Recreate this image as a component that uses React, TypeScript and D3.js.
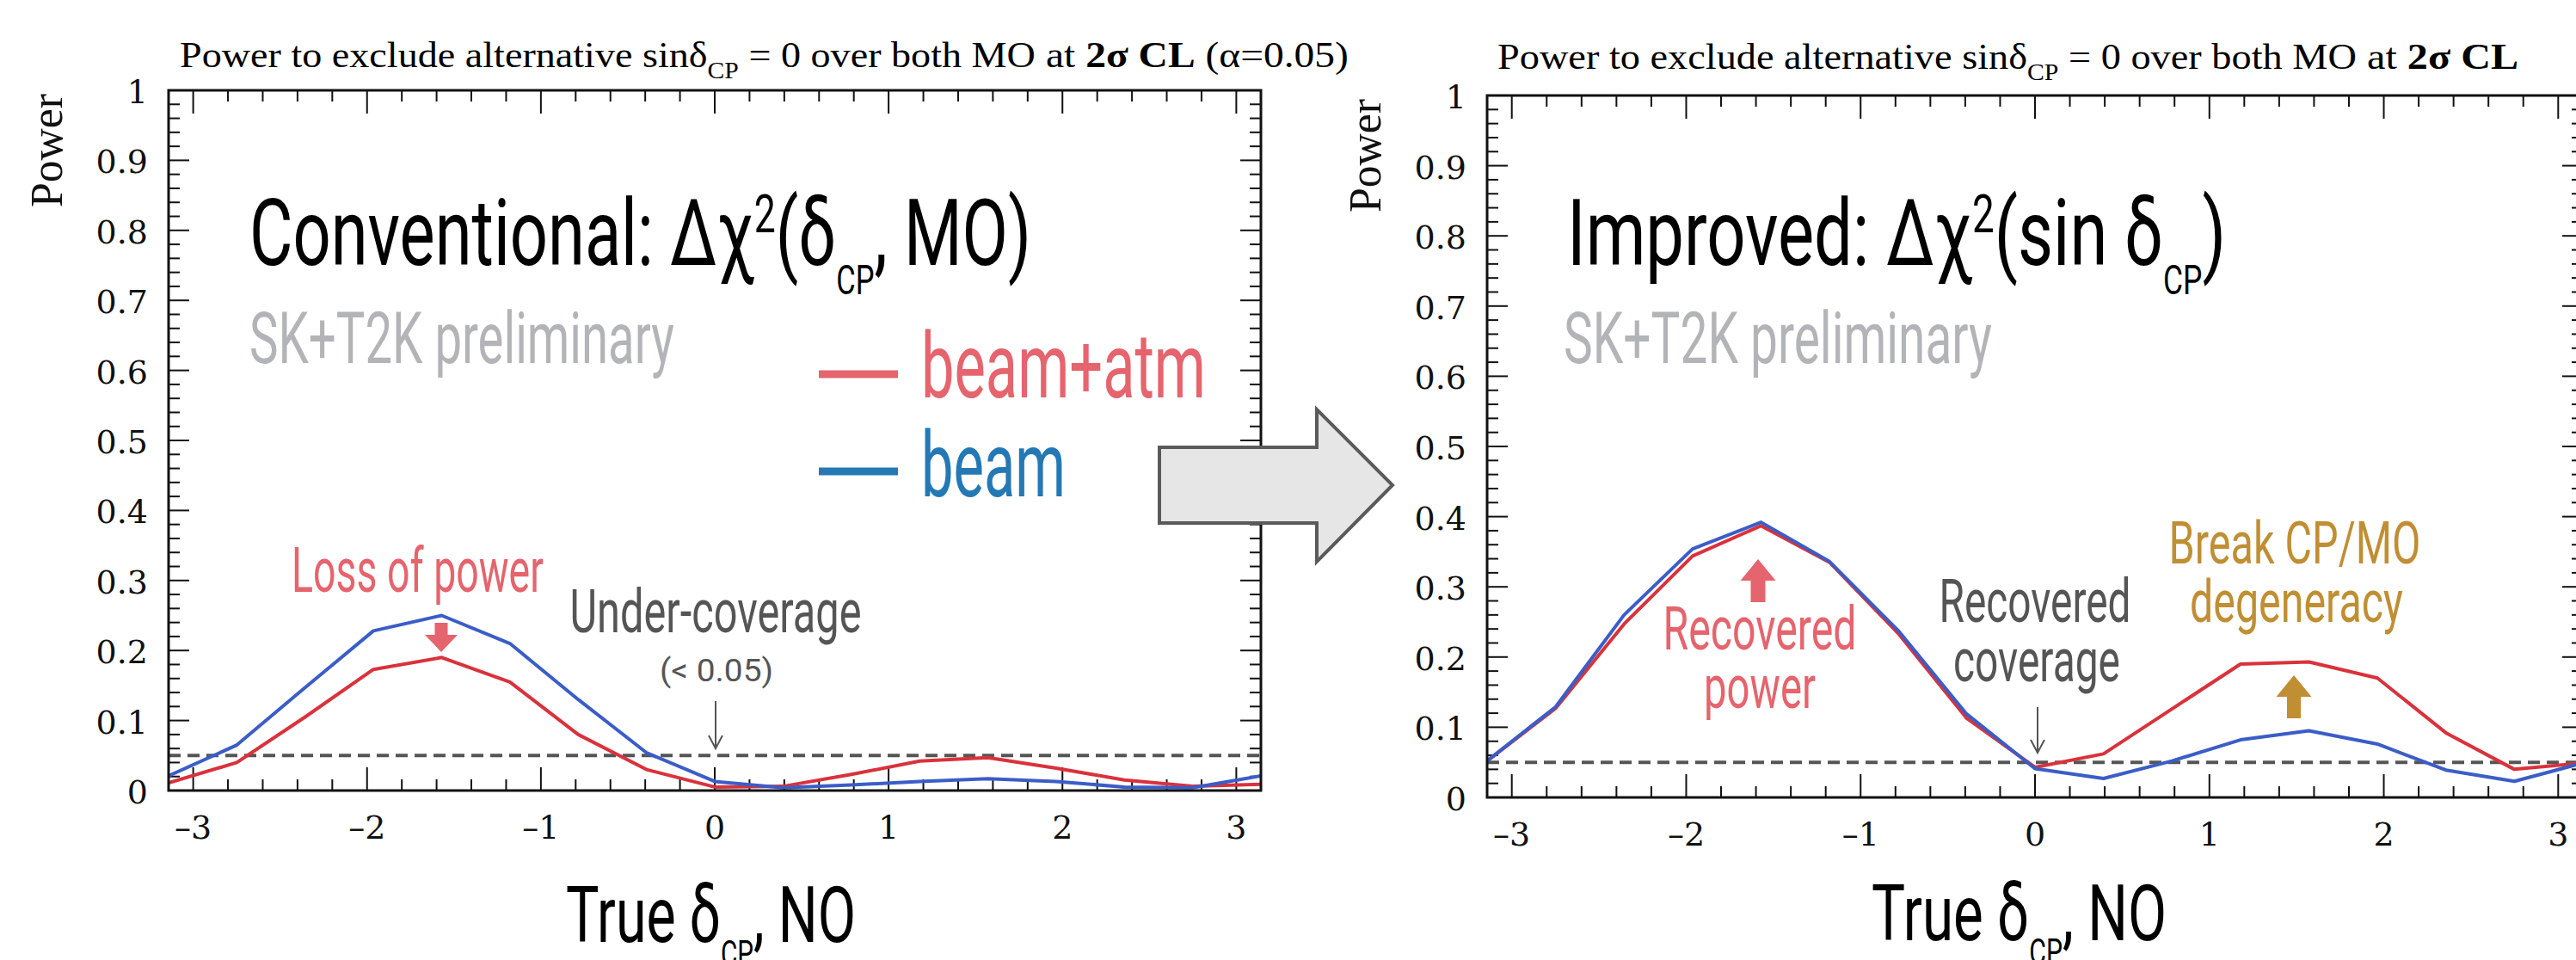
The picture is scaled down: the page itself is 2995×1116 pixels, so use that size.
import React, { useLayoutEffect, useRef, useState } from 'react';
import * as d3 from 'd3';

const W = 2995;
const H = 1116;

// True delta_CP grid (radians), steps of pi/8 from -pi to pi
const deltaGrid = [
  -3.1416, -2.7489, -2.3562, -1.9635, -1.5708, -1.1781, -0.7854, -0.3927, 0,
  0.3927, 0.7854, 1.1781, 1.5708, 1.9635, 2.3562, 2.7489, 3.1416,
];

// Conventional Δχ²(δCP, MO)
const convBeam = [0.021, 0.065, 0.147, 0.228, 0.25, 0.21, 0.13, 0.054, 0.013, 0.004, 0.008, 0.013, 0.017, 0.013, 0.005, 0.004, 0.021];
const convBeamAtm = [0.011, 0.04, 0.105, 0.173, 0.19, 0.155, 0.08, 0.03, 0.005, 0.006, 0.023, 0.042, 0.047, 0.032, 0.015, 0.006, 0.009];

// Improved Δχ²(sin δCP)
const impBeam = [0.052, 0.129, 0.26, 0.354, 0.392, 0.336, 0.238, 0.119, 0.041, 0.027, 0.052, 0.082, 0.095, 0.076, 0.039, 0.023, 0.049];
const impBeamAtm = [0.052, 0.127, 0.247, 0.344, 0.387, 0.335, 0.234, 0.113, 0.043, 0.062, 0.126, 0.19, 0.193, 0.17, 0.092, 0.04, 0.049];

const xTickValues = [-3, -2, -1, 0, 1, 2, 3];
const yTickValues = [0, 0.1, 0.2, 0.3, 0.4, 0.5, 0.6, 0.7, 0.8, 0.9, 1];
const alphaLevel = 0.05;

const RED_LINE = '#d9323c';
const BLUE_LINE = '#3b5dc7';
const RED_TEXT = '#e5646d';
const BLUE_TEXT = '#2479b5';
const GRAY_DARK = '#555555';
const GRAY_LIGHT = '#b3b4b8';
const GOLD = '#c08e33';

const SANS = 'Roboto, "Noto Sans", sans-serif';
const SERIF = '"Liberation Serif", "DejaVu Serif", serif';
const TICK_SERIF = '"DejaVu Serif", "Liberation Serif", serif';

// Text that is squeezed horizontally so its full width equals `w`.
function Fit(props: {
  x: number; y: number; w: number; anchor?: 'start' | 'middle' | 'end';
  size: number; family: string; fill: string; weight?: string | number; children: React.ReactNode;
}) {
  const { x, y, w, anchor = 'start', size, family, fill, weight = 'normal', children } = props;
  const ref = useRef<SVGTextElement>(null);
  const [s, setS] = useState(1);
  useLayoutEffect(() => {
    const measure = () => {
      if (ref.current) {
        const bw = ref.current.getBBox().width;
        if (bw > 0) setS(w / bw);
      }
    };
    measure();
    if ((document as any).fonts && (document as any).fonts.ready) {
      (document as any).fonts.ready.then(measure);
    }
  }, [w]);
  return (
    <g transform={`translate(${x},${y}) scale(${s},1)`}>
      <text ref={ref} x={0} y={0} textAnchor={anchor} fontSize={size} fontFamily={family} fill={fill} fontWeight={weight}>
        {children}
      </text>
    </g>
  );
}

function Panel(props: {
  left: number; right: number; top: number; bottom: number;
  beam: number[]; beamAtm: number[]; clipId: string;
}) {
  const { left, right, top, bottom, beam, beamAtm, clipId } = props;
  const x = d3.scaleLinear().domain([-Math.PI, Math.PI]).range([left, right]);
  const y = d3.scaleLinear().domain([0, 1]).range([bottom, top]);
  const line = d3.line<number>().x((_, i) => x(deltaGrid[i])).y((d) => y(d));

  const xMinor = d3.range(-15, 16).map((i) => i * 0.2).filter((v) => Math.abs(v - Math.round(v)) > 1e-6);
  const yMinor = d3.range(0, 51).map((i) => i / 50).filter((v) => Math.abs(v * 10 - Math.round(v * 10)) > 1e-6);

  const majX = 27, minX = 13, majY = 24, minY = 13;

  return (
    <g>
      <defs>
        <clipPath id={clipId}>
          <rect x={left} y={top} width={right - left} height={bottom - top} />
        </clipPath>
      </defs>
      {/* ticks */}
      <g stroke="#111" strokeWidth={2}>
        {xTickValues.map((v) => (
          <g key={'xm' + v}>
            <line x1={x(v)} x2={x(v)} y1={bottom} y2={bottom - majX} />
            <line x1={x(v)} x2={x(v)} y1={top} y2={top + majX} />
          </g>
        ))}
        {xMinor.map((v) => (
          <g key={'xn' + v}>
            <line x1={x(v)} x2={x(v)} y1={bottom} y2={bottom - minX} />
            <line x1={x(v)} x2={x(v)} y1={top} y2={top + minX} />
          </g>
        ))}
        {yTickValues.map((v) => (
          <g key={'ym' + v}>
            <line x1={left} x2={left + majY} y1={y(v)} y2={y(v)} />
            <line x1={right} x2={right - majY} y1={y(v)} y2={y(v)} />
          </g>
        ))}
        {yMinor.map((v) => (
          <g key={'yn' + v}>
            <line x1={left} x2={left + minY} y1={y(v)} y2={y(v)} />
            <line x1={right} x2={right - minY} y1={y(v)} y2={y(v)} />
          </g>
        ))}
      </g>
      {/* threshold */}
      <line x1={left} x2={right} y1={y(alphaLevel)} y2={y(alphaLevel)} stroke={GRAY_DARK} strokeWidth={4} strokeDasharray="14 8" />
      {/* curves */}
      <g clipPath={`url(#${clipId})`} fill="none" strokeWidth={4} strokeLinejoin="round">
        <path d={line(beamAtm) || ''} stroke={RED_LINE} />
        <path d={line(beam) || ''} stroke={BLUE_LINE} />
      </g>
      {/* frame */}
      <rect x={left} y={top} width={right - left} height={bottom - top} fill="none" stroke="#111" strokeWidth={3} />
      {/* tick labels */}
      <g fontFamily={TICK_SERIF} fontSize={38} fill="#111">
        {yTickValues.map((v) => (
          <text key={'yl' + v} x={left - 24} y={y(v) + 15} textAnchor="end">
            {String(+v.toFixed(1))}
          </text>
        ))}
        {xTickValues.map((v) => (
          <text key={'xl' + v} x={x(v)} y={bottom + 56} textAnchor="middle">
            {v < 0 ? '\u2013' + Math.abs(v) : String(v)}
          </text>
        ))}
      </g>
      <text
        transform={`translate(${left - 124},${top + 70}) rotate(-90)`}
        textAnchor="middle"
        fontFamily={SERIF}
        fontSize={52}
        textLength={132}
        lengthAdjust="spacingAndGlyphs"
        fill="#111"
      >
        Power
      </text>
    </g>
  );
}

function blockArrow(cx: number, tipY: number, baseY: number, headLen: number, headW: number, shaftW: number) {
  const dir = Math.sign(tipY - baseY);
  const hy = tipY - dir * headLen;
  return [
    `M${cx - shaftW / 2},${baseY}`,
    `L${cx + shaftW / 2},${baseY}`,
    `L${cx + shaftW / 2},${hy}`,
    `L${cx + headW / 2},${hy}`,
    `L${cx},${tipY}`,
    `L${cx - headW / 2},${hy}`,
    `L${cx - shaftW / 2},${hy}`,
    'Z',
  ].join(' ');
}

function ThinArrow({ x, y0, y1 }: { x: number; y0: number; y1: number }) {
  return (
    <g stroke={GRAY_DARK} strokeWidth={2} fill="none">
      <line x1={x} x2={x} y1={y0} y2={y1} />
      <polyline points={`${x - 8},${y1 - 15} ${x},${y1} ${x + 8},${y1 - 15}`} />
    </g>
  );
}

function Title({ x, y, w1, w2, tail }: { x: number; y: number; w1: number; w2: number; tail: string }) {
  return (
    <g>
      <Fit x={x} y={y} w={w1} size={42} family={SERIF} fill="#000">
        <tspan>Power to exclude alternative sinδ</tspan>
        <tspan dy={13} fontSize={27}>CP</tspan>
        <tspan dy={-13}> = 0 over both MO</tspan>
      </Fit>
      <Fit x={x + w1 + 12} y={y} w={w2} size={43} family={SERIF} fill="#000">
        <tspan>at </tspan>
        <tspan fontWeight="bold">2σ CL</tspan>
        <tspan>{tail}</tspan>
      </Fit>
    </g>
  );
}

export default function App() {
  return (
    <svg
      width={W}
      height={H}
      viewBox={`0 0 ${W} ${H}`}
      style={{ position: 'absolute', left: 0, top: 0, display: 'block', background: '#fff' }}
    >
      <rect x={0} y={0} width={W} height={H} fill="#fff" />

      {/* Left: conventional */}
      <Title x={209} y={78} w1={995} w2={352} tail=" (α=0.05)" />
      <Panel left={196} right={1466} top={105} bottom={919} beam={convBeam} beamAtm={convBeamAtm} clipId="clipL" />

      {/* Right: improved */}
      <Title x={1741} y={80} w1={999} w2={176} tail="" />
      <Panel left={1729} right={3003} top={111} bottom={927} beam={impBeam} beamAtm={impBeamAtm} clipId="clipR" />

      {/* Method headings */}
      <Fit x={290} y={308} w={909} size={108} family={SANS} fill="#000">
        <tspan>Conventional: Δχ</tspan>
        <tspan dy={-38} fontSize={62}>2</tspan>
        <tspan dy={38}>(δ</tspan>
        <tspan dy={34} fontSize={48}>CP</tspan>
        <tspan dy={-34}>, MO)</tspan>
      </Fit>
      <Fit x={1822} y={308} w={766} size={108} family={SANS} fill="#000">
        <tspan>Improved: Δχ</tspan>
        <tspan dy={-38} fontSize={62}>2</tspan>
        <tspan dy={38}>(sin δ</tspan>
        <tspan dy={34} fontSize={48}>CP</tspan>
        <tspan dy={-34}>)</tspan>
      </Fit>
      <Fit x={290} y={422} w={494} size={84} family={SANS} fill={GRAY_LIGHT}>SK+T2K preliminary</Fit>
      <Fit x={1818} y={422} w={498} size={84} family={SANS} fill={GRAY_LIGHT}>SK+T2K preliminary</Fit>

      {/* Legend */}
      <line x1={952} x2={1044} y1={435} y2={435} stroke={RED_TEXT} strokeWidth={9} />
      <Fit x={1071} y={462} w={331} size={106} family={SANS} fill={RED_TEXT}>beam+atm</Fit>
      <line x1={952} x2={1044} y1={548} y2={548} stroke={BLUE_TEXT} strokeWidth={9} />
      <Fit x={1071} y={577} w={168} size={106} family={SANS} fill={BLUE_TEXT}>beam</Fit>

      {/* Left annotations */}
      <Fit x={339} y={688} w={293} size={72} family={SANS} fill={RED_TEXT}>Loss of power</Fit>
      <path d={blockArrow(513, 758, 724, 20, 38, 15)} fill={RED_TEXT} />
      <Fit x={832} y={735} w={339} anchor="middle" size={70} family={SANS} fill={GRAY_DARK}>Under-coverage</Fit>
      <Fit x={833} y={792} w={132} anchor="middle" size={36} family={SANS} fill={GRAY_DARK}>(&lt; 0.05)</Fit>
      <ThinArrow x={832} y0={815} y1={870} />

      {/* Right annotations */}
      <path d={blockArrow(2044, 650, 700, 25, 41, 17)} fill={RED_TEXT} />
      <Fit x={2046} y={755} w={225} anchor="middle" size={70} family={SANS} fill={RED_TEXT}>Recovered</Fit>
      <Fit x={2046} y={823} w={130} anchor="middle" size={70} family={SANS} fill={RED_TEXT}>power</Fit>
      <Fit x={2366} y={723} w={223} anchor="middle" size={70} family={SANS} fill={GRAY_DARK}>Recovered</Fit>
      <Fit x={2368} y={792} w={194} anchor="middle" size={70} family={SANS} fill={GRAY_DARK}>coverage</Fit>
      <ThinArrow x={2369} y0={822} y1={875} />
      <Fit x={2668} y={655} w={293} anchor="middle" size={68} family={SANS} fill={GOLD}>Break CP/MO</Fit>
      <Fit x={2670} y={723} w={248} anchor="middle" size={68} family={SANS} fill={GOLD}>degeneracy</Fit>
      <path d={blockArrow(2667, 785, 835, 25, 41, 16)} fill={GOLD} />

      {/* Axis titles */}
      <Fit x={658} y={1095} w={337} size={91} family={SANS} fill="#000">
        <tspan>True δ</tspan>
        <tspan dy={28} fontSize={42}>CP</tspan>
        <tspan dy={-28}>, NO</tspan>
      </Fit>
      <Fit x={2176} y={1093} w={343} size={91} family={SANS} fill="#000">
        <tspan>True δ</tspan>
        <tspan dy={28} fontSize={42}>CP</tspan>
        <tspan dy={-28}>, NO</tspan>
      </Fit>

      {/* Transition arrow between the two panels */}
      <polygon
        points="1348,520 1531,520 1531,476 1619,564 1531,653 1531,608 1348,608"
        fill="#e6e6e6"
        stroke="#5a5a5a"
        strokeWidth={4}
        strokeLinejoin="miter"
      />
    </svg>
  );
}
